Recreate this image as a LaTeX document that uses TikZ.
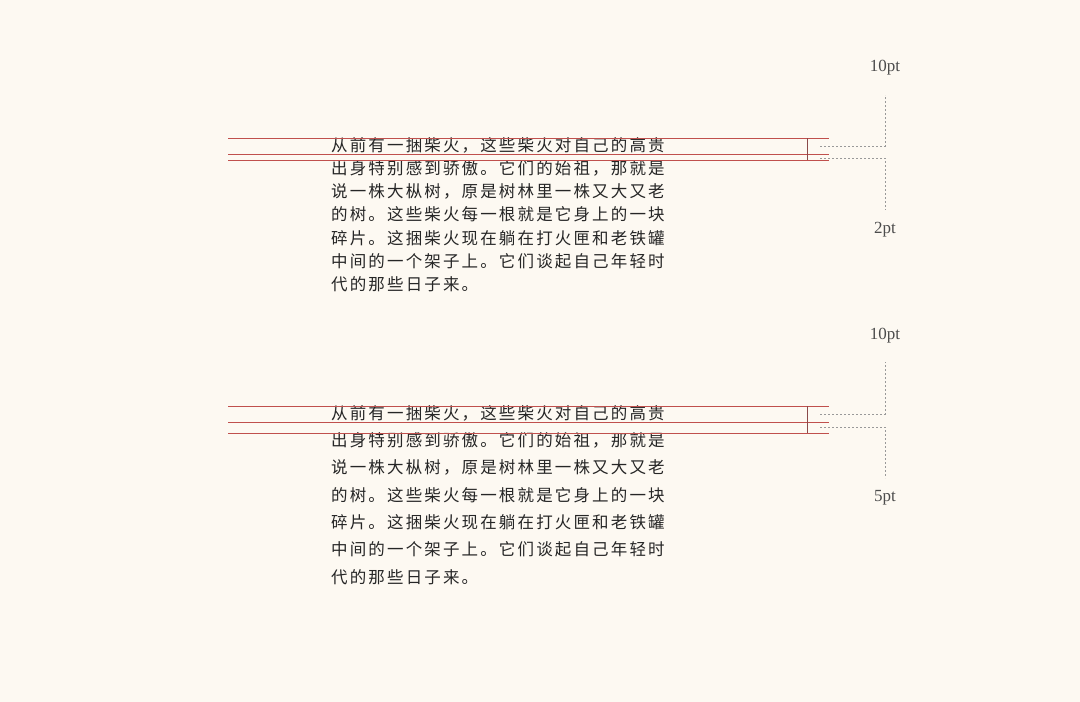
\documentclass[tikz,border=0pt]{standalone}
\usepackage{fontspec}
\newfontfamily\cjk[LetterSpace=13]{Noto Sans CJK SC}
\newfontfamily\lab{Liberation Serif}
\definecolor{bg}{HTML}{FDF9F2}
\definecolor{rl}{HTML}{C0504D}
\definecolor{dk}{HTML}{8A4A4A}
\definecolor{gd}{HTML}{999999}
\begin{document}
\begin{tikzpicture}[x=1pt,y=-1pt,
  txt/.style={anchor=west,inner sep=0,font=\cjk\fontsize{16.5}{17}\selectfont,text=black!85},
  lbl/.style={inner sep=0,font=\lab\fontsize{17}{17}\selectfont,text=black!70},
  rline/.style={draw=rl,line width=0.7pt},
  dline/.style={draw=gd,dashed,dash pattern=on 2pt off 2pt,line width=0.8pt}]
\fill[bg] (0,0) rectangle (1080,702);
\useasboundingbox (0,0) rectangle (1080,702);
\def\lines{{"从前有一捆柴火，这些柴火对自己的高贵","出身特别感到骄傲。它们的始祖，那就是","说一株大枞树，原是树林里一株又大又老","的树。这些柴火每一根就是它身上的一块","碎片。这捆柴火现在躺在打火匣和老铁罐","中间的一个架子上。它们谈起自己年轻时","代的那些日子来。"}}
\foreach \t [count=\i from 0] in {从前有一捆柴火，这些柴火对自己的高贵,出身特别感到骄傲。它们的始祖，那就是,说一株大枞树，原是树林里一株又大又老,的树。这些柴火每一根就是它身上的一块,碎片。这捆柴火现在躺在打火匣和老铁罐,中间的一个架子上。它们谈起自己年轻时,代的那些日子来。}{
  \node[txt] (a\i) at (331,{145+23.2*\i}) {\t};
  \node[txt] (b\i) at (331,{413+27.3*\i}) {\t};
}
% top block guides
\draw[rline] (228,138) -- (829,138);
\draw[rline] (228,154) -- (829,154);
\draw[rline] (228,160) -- (829,160);
\draw[draw=dk,line width=0.7pt] (807,138) -- (807,160);
\coordinate (t1) at (885,95); \coordinate (t2) at (885,146);
\coordinate (t3) at (885,158); \coordinate (t4) at (885,210);
\draw[dline] (820,146) -- (t2) -- (t1);
\draw[dline] (820,158) -- (t3) -- (t4);
\node[lbl] (l1) at (885,68) {10pt};
\node[lbl] (l2) at (885,230) {2pt};
% bottom block guides
\draw[rline] (228,406) -- (829,406);
\draw[rline] (228,422) -- (829,422);
\draw[rline] (228,433) -- (829,433);
\draw[draw=dk,line width=0.7pt] (807,406) -- (807,433);
\coordinate (u1) at (885,362); \coordinate (u2) at (885,414);
\coordinate (u3) at (885,427); \coordinate (u4) at (885,478);
\draw[dline] (820,414) -- (u2) -- (u1);
\draw[dline] (820,427) -- (u3) -- (u4);
\node[lbl] (l3) at (885,336) {10pt};
\node[lbl] (l4) at (885,498) {5pt};
\end{tikzpicture}
\end{document}
